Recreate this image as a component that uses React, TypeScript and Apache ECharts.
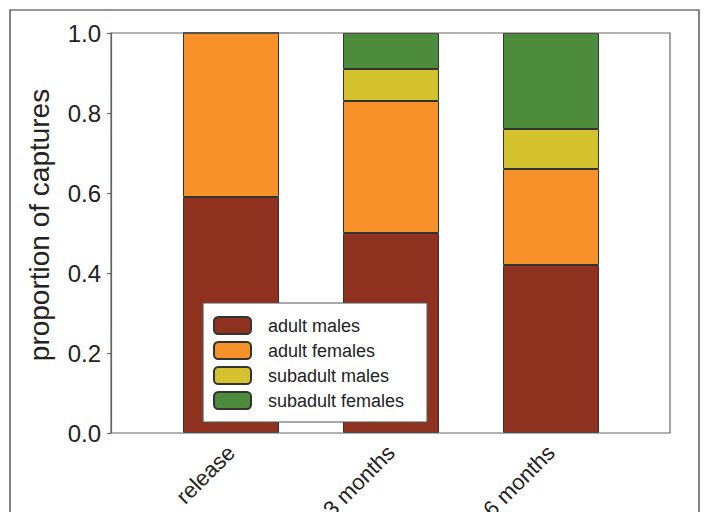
import React, { useEffect, useRef } from "react";
import * as echarts from "echarts";

const categories = ["release", "3 months", "6 months"];
const seriesNames = ["adult males", "adult females", "subadult males", "subadult females"];
const adultMales = [0.59, 0.5, 0.42];
const adultFemales = [0.41, 0.33, 0.24];
const subadultMales = [0, 0.08, 0.1];
const subadultFemales = [0, 0.09, 0.24];
const colors = ["#8E321F", "#F7922B", "#D4C22E", "#4D8C3D"];

const FONT = "'Liberation Sans', Arial, Helvetica, sans-serif";

export default function App() {
  const ref = useRef<HTMLDivElement>(null);
  useEffect(() => {
    if (!ref.current) return;
    const chart = echarts.init(ref.current, undefined, { renderer: "svg" });
    const values = [adultMales, adultFemales, subadultMales, subadultFemales];
    chart.setOption({
      animation: false,
      backgroundColor: "#ffffff",
      textStyle: { fontFamily: FONT },
      graphic: [
        {
          type: "rect",
          shape: { x: 10, y: 10, width: 689, height: 530 },
          style: { fill: "none", stroke: "#333", lineWidth: 1.2 },
          silent: true,
        },
      ],
      grid: [
        {
          left: 111,
          right: 35,
          top: 33,
          bottom: 79,
          show: true,
          borderColor: "#666",
          borderWidth: 1.2,
          backgroundColor: "transparent",
          containLabel: false,
          outerBoundsMode: "none",
          z: 3,
        },
        {
          left: 151,
          right: 74,
          top: 33,
          bottom: 79,
          show: false,
          containLabel: false,
          outerBoundsMode: "none",
        },
      ],
      legend: {
        orient: "vertical",
        left: 203,
        top: 303,
        data: seriesNames,
        backgroundColor: "#ffffff",
        borderColor: "#555",
        borderWidth: 1.2,
        borderRadius: 0,
        padding: [13, 23, 12, 10],
        itemWidth: 37,
        itemHeight: 17,
        itemGap: 6,
        textStyle: { fontSize: 18, color: "#222", fontFamily: FONT, padding: [0, 0, 0, 12] },
        selectedMode: false,
      },
      xAxis: [
        {
          type: "value",
          gridIndex: 0,
          min: 0,
          max: 1,
          show: false,
        },
        {
          type: "category",
          gridIndex: 1,
          data: categories,
          splitLine: { show: false },
          axisLine: { show: false },
          axisTick: { show: false },
          axisLabel: {
            rotate: 45,
            fontSize: 22,
            color: "#222",
            margin: 16,
            fontFamily: FONT,
            interval: 0,
          },
        },
      ],
      yAxis: [
        {
          type: "value",
          gridIndex: 0,
          min: 0,
          max: 1,
          interval: 0.2,
          name: "proportion of captures",
          nameLocation: "middle",
          nameGap: 58,
          nameTextStyle: { fontSize: 28, color: "#222", fontFamily: FONT, padding: [0, 0, 0, 16] },
          splitLine: { show: false },
          axisLine: { show: true, onZero: false, lineStyle: { color: "#666", width: 1.2 } },
          axisTick: { show: true, inside: false, length: 4, lineStyle: { color: "#666" } },
          axisLabel: {
            fontSize: 24,
            color: "#222",
            margin: 10,
            fontFamily: FONT,
            formatter: (v: number) => v.toFixed(1),
          },
        },
        {
          type: "value",
          gridIndex: 1,
          min: 0,
          max: 1,
          show: false,
        },
      ],
      series: seriesNames.map((name, i) => ({
        name,
        type: "bar",
        stack: "total",
        xAxisIndex: 1,
        yAxisIndex: 1,
        barWidth: 96,
        data: values[i],
        itemStyle: { color: colors[i], borderColor: "#333", borderWidth: 1 },
      })),
    });
    return () => chart.dispose();
  }, []);
  return (
    <div
      ref={ref}
      style={{ position: "absolute", left: 0, top: 0, width: 705, height: 512 }}
    />
  );
}
